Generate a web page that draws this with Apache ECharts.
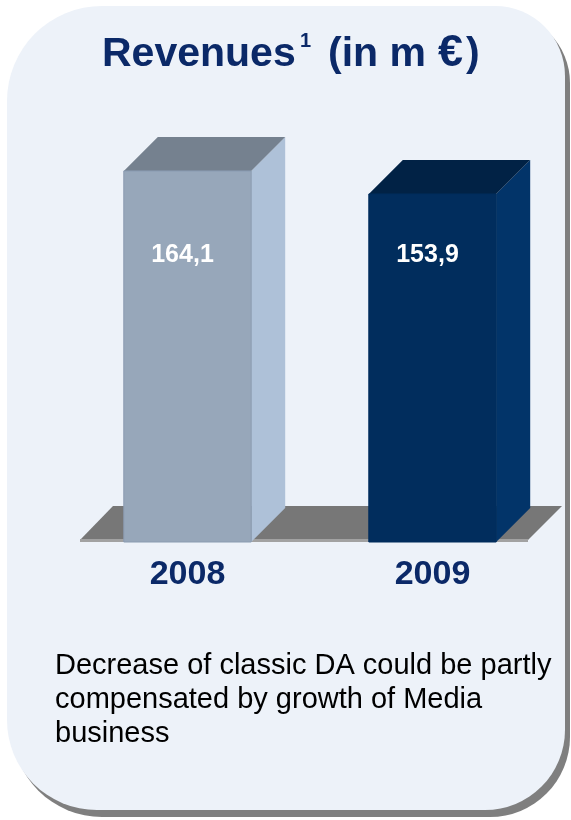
<!DOCTYPE html>
<html>
<head>
<meta charset="utf-8">
<script src="https://cdn.jsdelivr.net/npm/echarts@6/dist/echarts.min.js"></script>
<style>
  html, body { margin: 0; padding: 0; background: #ffffff; }
  #chart { width: 571px; height: 820px; }
</style>
</head>
<body>
<div id="chart"></div>
<script>
// Revenue per year (in million euro)
const years = ['2008', '2009'];
const revenues = [164.1, 153.9];
const axisMax = 180;
const noteLines = [
  'Decrease of classic DA could be partly',
  'compensated by growth of Media',
  'business'
];

const FONT = '"Liberation Sans", Arial, Helvetica, sans-serif';
const NAVY = '#0b2968';
const DEPTH_X = 34;
const DEPTH_Y = 34;
const barColors = [
  { front: '#97a7ba', side: '#aec1d8', top: '#75818f', stroke: '#8a9bb1' },
  { front: '#012d5d', side: '#023469', top: '#012245', stroke: '#012d5d' }
];

const fmt = v => v.toFixed(1).replace('.', ',');

const chart = echarts.init(document.getElementById('chart'), null, { renderer: 'canvas' });

// grey slab the columns stand on
function renderFloor(params, api) {
  const cs = params.coordSys;
  const y0 = api.coord([0, 0])[1];
  const left = cs.x + 15;
  const right = cs.x + cs.width - 27;
  return {
    type: 'group',
    children: [
      {
        type: 'polygon',
        shape: { points: [[left, y0 - 2], [left + 33, y0 - 36], [right + 34, y0 - 36], [right, y0 - 2]] },
        style: { fill: '#777777' }
      },
      {
        type: 'rect',
        shape: { x: left, y: y0 - 3, width: right - left, height: 3 },
        style: { fill: '#a2a2a2' }
      }
    ]
  };
}

// 3D column: front face, side face, top face and value label
function renderBar(params, api) {
  const i = api.value(0);
  const v = api.value(1);
  const base = api.coord([i, 0]);
  const top = api.coord([i, v]);
  const bw = api.size([1, 0])[0] * 0.52;
  const x0 = base[0] - bw / 2;
  const x1 = x0 + bw;
  const c = barColors[params.dataIndex % barColors.length];
  return {
    type: 'group',
    children: [
      {
        type: 'polygon',
        shape: { points: [[x1, top[1]], [x1 + DEPTH_X, top[1] - DEPTH_Y], [x1 + DEPTH_X, base[1] - DEPTH_Y], [x1, base[1]]] },
        style: { fill: c.side }
      },
      {
        type: 'polygon',
        shape: { points: [[x0, top[1]], [x0 + DEPTH_X, top[1] - DEPTH_Y], [x1 + DEPTH_X, top[1] - DEPTH_Y], [x1, top[1]]] },
        style: { fill: c.top }
      },
      {
        type: 'rect',
        shape: { x: x0, y: top[1], width: bw, height: base[1] - top[1] },
        style: { fill: c.front, stroke: c.stroke, lineWidth: 1 }
      },
      {
        type: 'text',
        x: base[0] - 5,
        y: base[1] - 287,
        style: {
          text: fmt(v),
          fill: '#ffffff',
          fontFamily: FONT,
          fontWeight: 'bold',
          fontSize: 25,
          align: 'center',
          verticalAlign: 'middle'
        }
      }
    ]
  };
}

const titleStyle = { fill: NAVY, fontFamily: FONT, fontWeight: 'bold', fontSize: 41, verticalAlign: 'top' };

chart.setOption({
  animation: false,
  backgroundColor: '#ffffff',
  graphic: [
    {
      type: 'rect',
      shape: { x: 12, y: 13, width: 558, height: 804, r: [95, 70, 80, 90] },
      style: { fill: '#7f7f7f' }
    },
    {
      type: 'rect',
      shape: { x: 7, y: 6, width: 558, height: 804, r: [95, 70, 80, 90] },
      style: { fill: '#edf2f9' }
    },
    { type: 'text', x: 102, y: 34, style: Object.assign({}, titleStyle, { text: 'Revenues' }) },
    { type: 'text', x: 300, y: 31, style: Object.assign({}, titleStyle, { text: '1', fontSize: 20 }) },
    { type: 'text', x: 328, y: 34, style: Object.assign({}, titleStyle, { text: '(in m' }) },
    { type: 'text', x: 438, y: 31, style: Object.assign({}, titleStyle, { text: '€', fontSize: 45 }) },
    { type: 'text', x: 466, y: 34, style: Object.assign({}, titleStyle, { text: ')' }) },
    {
      type: 'text',
      x: 55,
      y: 649,
      style: {
        text: noteLines.join('\n'),
        fill: '#000000',
        fontFamily: FONT,
        fontSize: 29,
        lineHeight: 34,
        verticalAlign: 'top'
      }
    }
  ],
  grid: { left: 65, right: 16, top: 135, bottom: 278 },
  xAxis: {
    type: 'category',
    data: years,
    axisLine: { show: false },
    axisTick: { show: false },
    splitLine: { show: false },
    axisLabel: {
      margin: 16,
      color: NAVY,
      fontFamily: FONT,
      fontWeight: 'bold',
      fontSize: 34
    }
  },
  yAxis: { type: 'value', min: 0, max: axisMax, show: false, splitLine: { show: false } },
  series: [
    {
      type: 'custom',
      renderItem: renderFloor,
      data: [[0, 0]],
      z: 1,
      silent: true
    },
    {
      type: 'custom',
      renderItem: renderBar,
      data: revenues.map((v, i) => [i, v]),
      encode: { x: 0, y: 1 },
      z: 2
    }
  ]
});
</script>
</body>
</html>
